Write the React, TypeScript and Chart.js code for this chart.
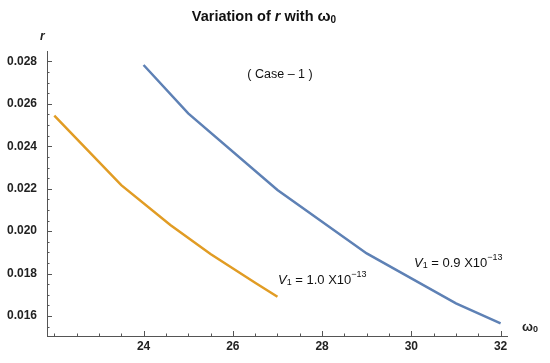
import React, { useEffect, useRef } from "react";
import { Chart, registerables } from "chart.js";

Chart.register(...registerables);

// Data
const blueX = [24, 25, 27, 29, 31, 32];
const blueY = [0.02783, 0.02555, 0.02194, 0.01895, 0.0166, 0.01566];
const orangeX = [22, 23.5, 24.6, 25.5, 26.5, 27];
const orangeY = [0.02544, 0.02217, 0.02029, 0.01892, 0.01757, 0.01691];

const xTickValues = [24, 26, 28, 30, 32];
const xTickLabels = ["24", "26", "28", "30", "32"];
const yTickValues = [0.016, 0.018, 0.02, 0.022, 0.024, 0.026, 0.028];
const yTickLabels = ["0.016", "0.018", "0.020", "0.022", "0.024", "0.026", "0.028"];
const xMinorStep = 0.5;
const yMinorStep = 0.0005;

const FONT = "'Liberation Sans', Arial, sans-serif";

type Seg = { t: string; f: string; dy?: number };

function drawSegs(ctx: CanvasRenderingContext2D, segs: Seg[], x: number, y: number, align: "left" | "center") {
  let total = 0;
  for (const s of segs) {
    ctx.font = s.f;
    total += ctx.measureText(s.t).width;
  }
  let cx = align === "center" ? x - total / 2 : x;
  ctx.textAlign = "left";
  ctx.textBaseline = "middle";
  for (const s of segs) {
    ctx.font = s.f;
    ctx.fillText(s.t, cx, y + (s.dy || 0));
    cx += ctx.measureText(s.t).width;
  }
}

const decorPlugin = {
  id: "decor",
  afterDraw(chart: any) {
    const ctx: CanvasRenderingContext2D = chart.ctx;
    const xs = chart.scales.x;
    const ys = chart.scales.y;
    const ca = chart.chartArea;
    ctx.save();
    // axes
    ctx.strokeStyle = "#555";
    ctx.lineWidth = 1;
    ctx.beginPath();
    ctx.moveTo(ca.left, ca.bottom + 0.5);
    ctx.lineTo(ca.right, ca.bottom + 0.5);
    ctx.moveTo(ca.left + 0.5, ca.top);
    ctx.lineTo(ca.left + 0.5, ca.bottom);
    ctx.stroke();

    // x ticks
    ctx.beginPath();
    for (let v = Math.ceil(xs.min / xMinorStep) * xMinorStep; v <= xs.max + 1e-9; v += xMinorStep) {
      const px = Math.round(xs.getPixelForValue(v)) + 0.5;
      const major = xTickValues.some((t) => Math.abs(t - v) < 1e-6);
      ctx.moveTo(px, ca.bottom);
      ctx.lineTo(px, ca.bottom - (major ? 5 : 2.5));
    }
    // y ticks
    for (let v = Math.ceil(ys.min / yMinorStep) * yMinorStep; v <= ys.max + 1e-9; v += yMinorStep) {
      const py = Math.round(ys.getPixelForValue(v)) + 0.5;
      const major = yTickValues.some((t) => Math.abs(t - v) < 1e-7);
      ctx.moveTo(ca.left, py);
      ctx.lineTo(ca.left + (major ? 5 : 2.5), py);
    }
    ctx.stroke();

    // tick labels
    ctx.fillStyle = "#222";
    ctx.font = `bold 12px ${FONT}`;
    ctx.textAlign = "center";
    ctx.textBaseline = "middle";
    xTickValues.forEach((v, i) => {
      ctx.fillText(xTickLabels[i], xs.getPixelForValue(v), ca.bottom + 11);
    });
    ctx.textAlign = "right";
    yTickValues.forEach((v, i) => {
      ctx.fillText(yTickLabels[i], ca.left - 10, ys.getPixelForValue(v));
    });

    // axis labels
    ctx.fillStyle = "#222";
    drawSegs(ctx, [{ t: "r", f: `italic bold 12px ${FONT}` }], 40, 37, "left");
    drawSegs(
      ctx,
      [
        { t: "ω", f: `bold 13px ${FONT}` },
        { t: "0", f: `bold 9px ${FONT}`, dy: 3 },
      ],
      ca.right + 14,
      ca.bottom - 9,
      "left"
    );

    // title
    ctx.fillStyle = "#111";
    drawSegs(
      ctx,
      [
        { t: "Variation of ", f: `bold 14.5px ${FONT}` },
        { t: "r", f: `italic bold 14.5px ${FONT}` },
        { t: " with ", f: `bold 14.5px ${FONT}` },
        { t: "ω", f: `bold 15.5px ${FONT}` },
        { t: "0", f: `bold 10px ${FONT}`, dy: 3 },
      ],
      264,
      17,
      "center"
    );

    // annotations
    ctx.fillStyle = "#111";
    drawSegs(ctx, [{ t: "( Case – 1 )", f: `12.5px ${FONT}` }], 280, 75, "center");
    const v1 = (val: string): Seg[] => [
      { t: "V", f: `italic 13px ${FONT}` },
      { t: "1", f: `9px ${FONT}`, dy: 3 },
      { t: " = " + val + " X10", f: `13px ${FONT}` },
      { t: "−13", f: `9px ${FONT}`, dy: -5 },
    ];
    drawSegs(ctx, v1("1.0"), 278, 280, "left");
    drawSegs(ctx, v1("0.9"), 414, 263, "left");
    ctx.restore();
  },
};

export default function App() {
  const ref = useRef<HTMLCanvasElement>(null);
  useEffect(() => {
    document.body.style.margin = "0";
    const canvas = ref.current!;
    const chart = new Chart(canvas, {
      type: "line",
      data: {
        datasets: [
          {
            label: "V1 = 0.9 X10^-13",
            data: blueX.map((x, i) => ({ x, y: blueY[i] })),
            borderColor: "#5E81B5",
            borderWidth: 2.5,
            pointRadius: 0,
            tension: 0,
            fill: false,
          },
          {
            label: "V1 = 1.0 X10^-13",
            data: orangeX.map((x, i) => ({ x, y: orangeY[i] })),
            borderColor: "#E19C24",
            borderWidth: 2.5,
            pointRadius: 0,
            tension: 0,
            fill: false,
          },
        ],
      },
      options: {
        animation: false,
        responsive: false,
        maintainAspectRatio: false,
        layout: { padding: { left: 47, right: 42, top: 51, bottom: 27 } },
        plugins: { legend: { display: false }, tooltip: { enabled: false }, title: { display: false } },
        scales: {
          x: { type: "linear", min: 21.836, max: 32.166, display: false },
          y: { type: "linear", min: 0.01506, max: 0.02849, display: false },
        },
      },
      plugins: [decorPlugin],
    });
    return () => chart.destroy();
  }, []);
  return <canvas ref={ref} width={550} height={363} style={{ display: "block", width: 550, height: 363 }} />;
}
